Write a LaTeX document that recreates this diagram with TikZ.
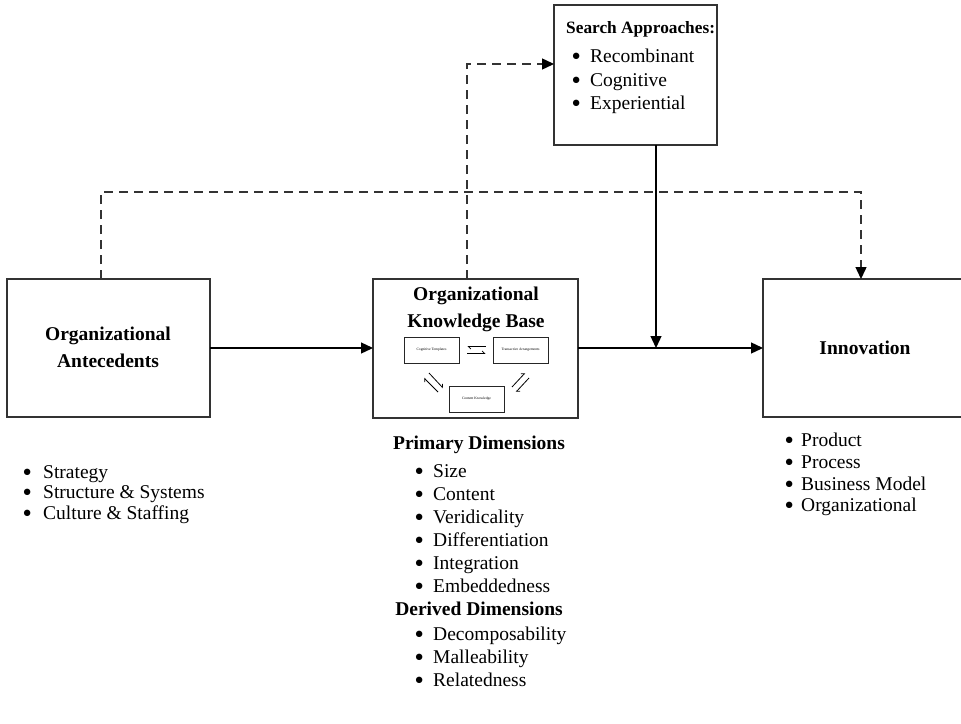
\documentclass[tikz,border=0pt]{standalone}
\usepackage{fontspec}
\setmainfont{Liberation Serif}
\usetikzlibrary{arrows.meta,calc}
\newcommand{\dotmark}[1]{\makebox[#1][l]{\raisebox{2pt}{\scalebox{0.8}{$\bullet$}}}}
\begin{document}
\begin{tikzpicture}[x=1pt,y=-1pt,
  frame/.style={draw=black!80,line width=1.8pt},
  flow/.style={draw=black,line width=1.3pt,-{Triangle[length=12pt,width=11pt]}},
  dashflow/.style={draw=black!80,line width=1.4pt,dash pattern=on 9pt off 6pt,-{Triangle[length=12pt,width=11pt,color=black]}},
  title/.style={font=\fontsize{19.5}{27}\selectfont\bfseries,align=center,inner sep=0pt},
  item/.style={font=\fontsize{19.5}{22}\selectfont,anchor=base west,inner sep=0pt},
  mini/.style={draw=black!85,line width=0.8pt,font=\fontsize{3.6}{4}\selectfont,inner sep=0pt},
  harp/.style={draw=black,line width=0.8pt},
]
\useasboundingbox (0,0) rectangle (961,723);
\clip (0,0) rectangle (961,723);

% main boxes
\draw[frame] (7,279) rectangle (210,417);
\node[title] (ante) at (108,347) {Organizational\\Antecedents};
\coordinate (anteE) at (210,348);
\coordinate (anteN) at (101,279);

\draw[frame] (373,279) rectangle (578,418);
\node[title] (kb) at (476,309) {Organizational\\Knowledge Base};
\coordinate (kbW) at (373,348);
\coordinate (kbE) at (578,348);
\coordinate (kbN) at (467,279);

\draw[frame] (554,5) rectangle (717,145);
\coordinate (srW) at (554,64);
\coordinate (srS) at (656,145);

\draw[frame] (763,279) rectangle (985,417);
\node[title] (inno) at (865,348) {Innovation};
\coordinate (inW) at (763,348);
\coordinate (inN) at (861,279);

% search approaches list
\node[title,font=\fontsize{17.3}{22}\selectfont\bfseries,anchor=base west] (srT) at (566,33) {Search Approaches:};
\foreach \t [count=\i] in {Recombinant,Cognitive,Experiential}
  \node[item] (sr-\i) at (572,{39+23.5*\i}) {\dotmark{18pt}\t};

% inner structure of the knowledge base
\node[mini,minimum width=55pt,minimum height=26pt] (ct) at (431.5,350) {Cognitive Templates};
\node[mini,minimum width=55pt,minimum height=26pt] (ta) at (520.5,350) {Transactive Arrangements};
\node[mini,minimum width=55pt,minimum height=26pt] (ck) at (476.5,399) {Content Knowledge};
\draw[harp,-{Straight Barb[left,length=2.5pt,width=5pt]}] ([xshift=8pt,yshift=-3.5pt]ct.east) -- ([xshift=-7pt,yshift=-3.5pt]ta.west);
\draw[harp,-{Straight Barb[left,length=2.5pt,width=5pt]}] ([xshift=-7pt,yshift=3.5pt]ta.west) -- ([xshift=8pt,yshift=3.5pt]ct.east);
\draw[harp,-{Straight Barb[left,length=2.5pt,width=5pt]}] (429,373) -- (443,388);
\draw[harp,-{Straight Barb[left,length=2.5pt,width=5pt]}] (438,392) -- (424,378);
\draw[harp,-{Straight Barb[left,length=2.5pt,width=5pt]}] (512,387) -- (525,373);
\draw[harp,-{Straight Barb[left,length=2.5pt,width=5pt]}] (529,378) -- (516,392);

% connectors
\coordinate (join) at (656,348);
\draw[flow] (anteE) -- (kbW);
\draw[flow] (kbE) -- (inW);
\draw[flow] (srS) -- (join);
\draw[dashflow] (kbN) |- (srW);
\draw[dashflow] (anteN) -- (101,192) -| (inN);

% lists below the boxes
\foreach \t [count=\i] in {Strategy,Structure \& Systems,Culture \& Staffing}
  \node[item] (an-\i) at (23,{457.5+20.5*\i}) {\dotmark{20pt}\t};

\node[title] (pd) at (479,445) {Primary Dimensions};
\foreach \t [count=\i] in {Size,Content,Veridicality,Differentiation,Integration,Embeddedness}
  \node[item] (pd-\i) at (415,{455+22.9*\i}) {\dotmark{18pt}\t};
\node[title] (dd) at (479,609) {Derived Dimensions};
\foreach \t [count=\i] in {Decomposability,Malleability,Relatedness}
  \node[item] (dd-\i) at (415,{617+23*\i}) {\dotmark{18pt}\t};

\foreach \t [count=\i] in {Product,Process,Business Model,Organizational}
  \node[item] (in-\i) at (785,{425+21.7*\i}) {\dotmark{16pt}\t};
\end{tikzpicture}
\end{document}
